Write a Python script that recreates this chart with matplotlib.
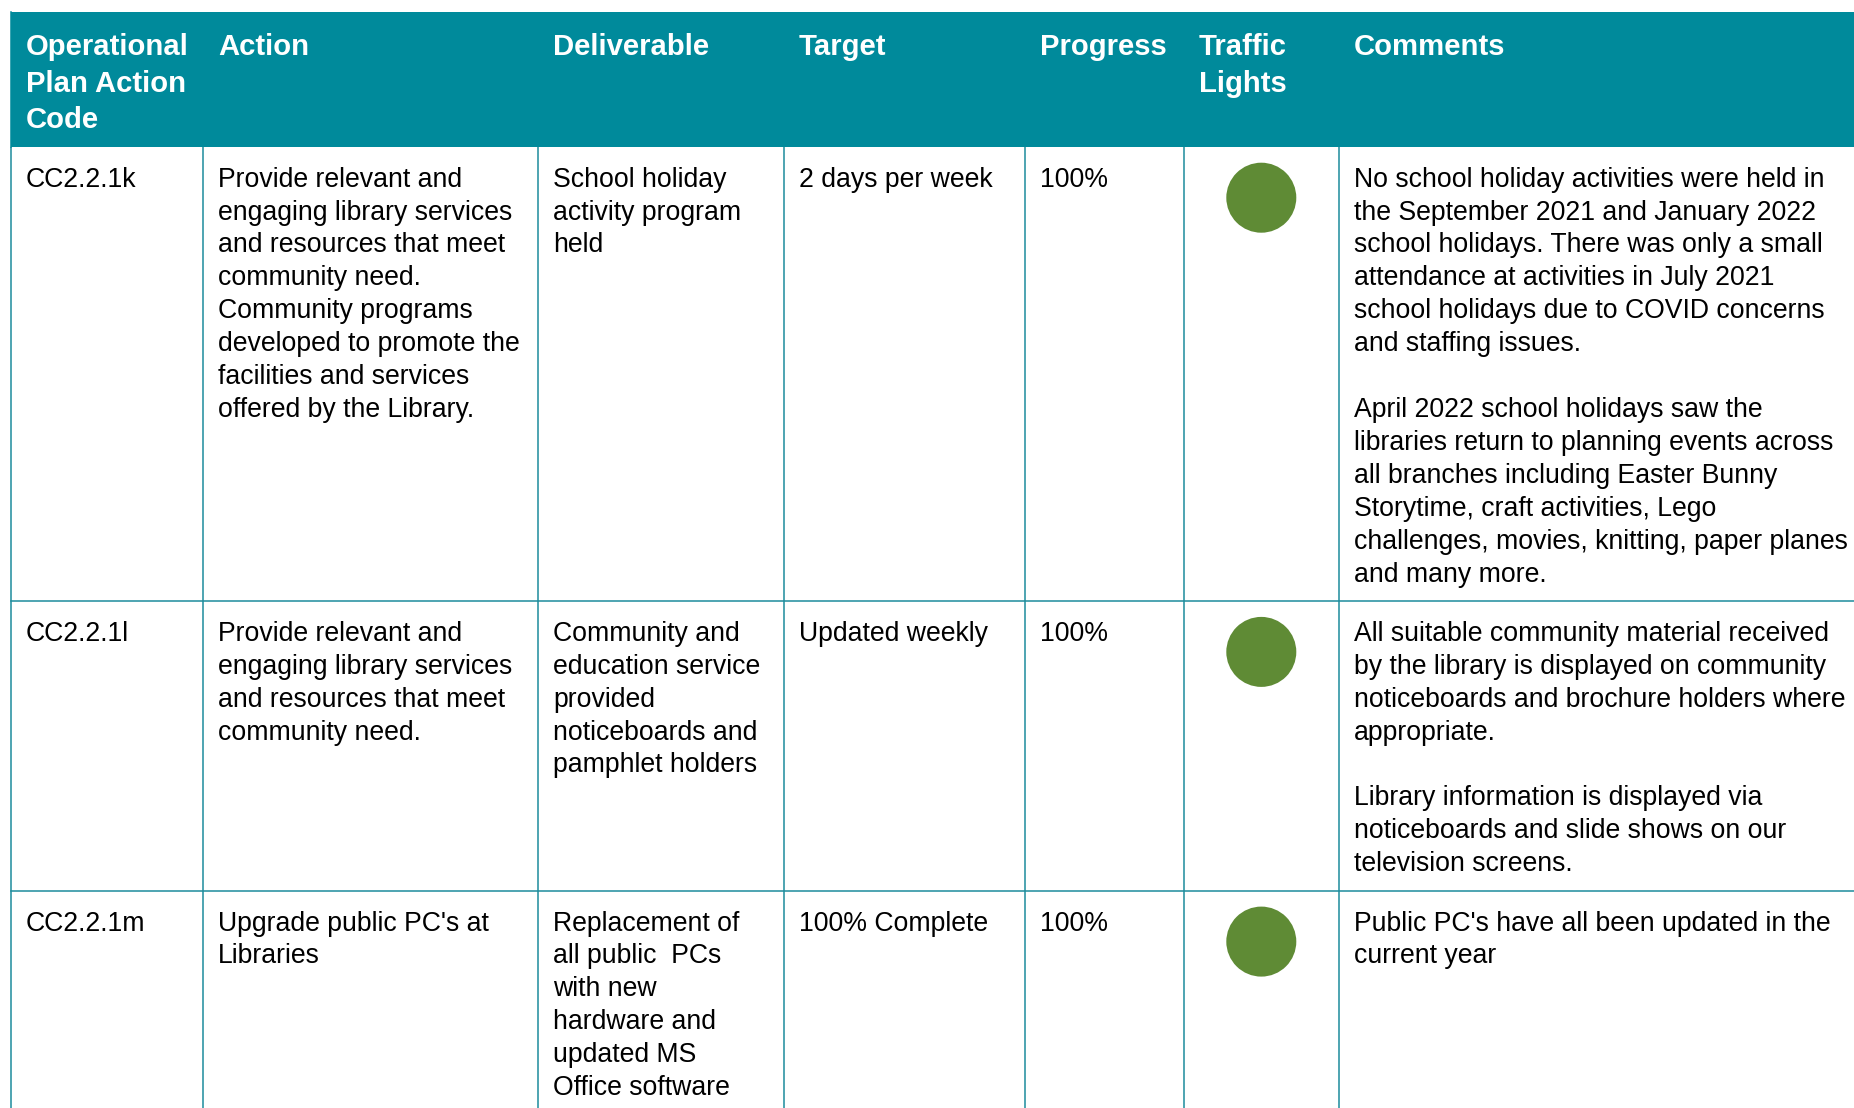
import matplotlib.pyplot as plt
from matplotlib.patches import Rectangle, Circle

# table content
headers = ["Operational\nPlan Action\nCode", "Action", "Deliverable", "Target",
           "Progress", "Traffic\nLights", "Comments"]

codes = ["CC2.2.1k", "CC2.2.1l", "CC2.2.1m"]

actions = [
    "Provide relevant and\nengaging library services\nand resources that meet\ncommunity need.\n"
    "Community programs\ndeveloped to promote the\nfacilities and services\noffered by the Library.",
    "Provide relevant and\nengaging library services\nand resources that meet\ncommunity need.",
    "Upgrade public PC's at\nLibraries",
]

deliverables = [
    "School holiday\nactivity program\nheld",
    "Community and\neducation service\nprovided\nnoticeboards and\npamphlet holders",
    "Replacement of\nall public  PCs\nwith new\nhardware and\nupdated MS\nOffice software",
]

targets = ["2 days per week", "Updated weekly", "100% Complete"]
progress = ["100%", "100%", "100%"]
lights = ["green", "green", "green"]

comments = [
    "No school holiday activities were held in\nthe September 2021 and January 2022\n"
    "school holidays. There was only a small\nattendance at activities in July 2021\n"
    "school holidays due to COVID concerns\nand staffing issues.\n\n"
    "April 2022 school holidays saw the\nlibraries return to planning events across\n"
    "all branches including Easter Bunny\nStorytime, craft activities, Lego\n"
    "challenges, movies, knitting, paper planes\nand many more.",
    "All suitable community material received\nby the library is displayed on community\n"
    "noticeboards and brochure holders where\nappropriate.\n\n"
    "Library information is displayed via\nnoticeboards and slide shows on our\ntelevision screens.",
    "Public PC's have all been updated in the\ncurrent year",
]

light_colors = {"green": "#5F8B35"}

# layout (pixels)
W, H = 1854, 1108
col_edges = [11, 203, 538, 784, 1025, 1184, 1338.6, 1900]
table_top = 11.7
header_h = 135
line_h = 32.9
head_line_h = 36.7
row_pad = 26.5
text_pad = 15
teal = "#008A9B"
line_col = "#1C8C9C"
font = "Liberation Sans"

fig = plt.figure(figsize=(W / 100, H / 100), dpi=100)
ax = fig.add_axes([0, 0, 1, 1])
ax.set_xlim(0, W)
ax.set_ylim(H, 0)
ax.axis("off")

# header band
ax.add_patch(Rectangle((col_edges[0], table_top), col_edges[-1] - col_edges[0], header_h,
                       facecolor=teal, edgecolor="none"))
for j, h in enumerate(headers):
    for k, line in enumerate(h.split("\n")):
        ax.text(col_edges[j] + text_pad, table_top + 43.3 + k * head_line_h, line,
                fontsize=21.1, fontweight="bold", color="white", family=font, va="baseline")

# body rows
cols = [codes, actions, deliverables, targets, progress, None, comments]
y = table_top + header_h
rows_top = []
for i in range(len(codes)):
    n_lines = max(len(c[i].split("\n")) for c in cols if c is not None)
    row_h = n_lines * line_h + row_pad
    rows_top.append((y, row_h))
    for j, c in enumerate(cols):
        if c is None:
            continue
        for k, line in enumerate(c[i].split("\n")):
            ax.text(col_edges[j] + text_pad, y + 40 + k * line_h, line,
                    fontsize=19.15, color="black", family=font, va="baseline")
    cx = (col_edges[5] + col_edges[6]) / 2
    ax.add_patch(Circle((cx, y + 51), 35, facecolor=light_colors[lights[i]], edgecolor="none"))
    y += row_h

# grid lines
body_top = table_top + header_h
bottom = max(y, H + 10)
for x in col_edges[:-1]:
    ax.plot([x, x], [body_top, bottom], color=line_col, lw=1.1, solid_capstyle="butt")
ax.plot([col_edges[0], col_edges[0]], [table_top, body_top], color=teal, lw=1.1)
for top, h in rows_top[1:]:
    ax.plot([col_edges[0], W], [top, top], color=line_col, lw=1.1)

fig.savefig("out.png", dpi=100, facecolor="white")
